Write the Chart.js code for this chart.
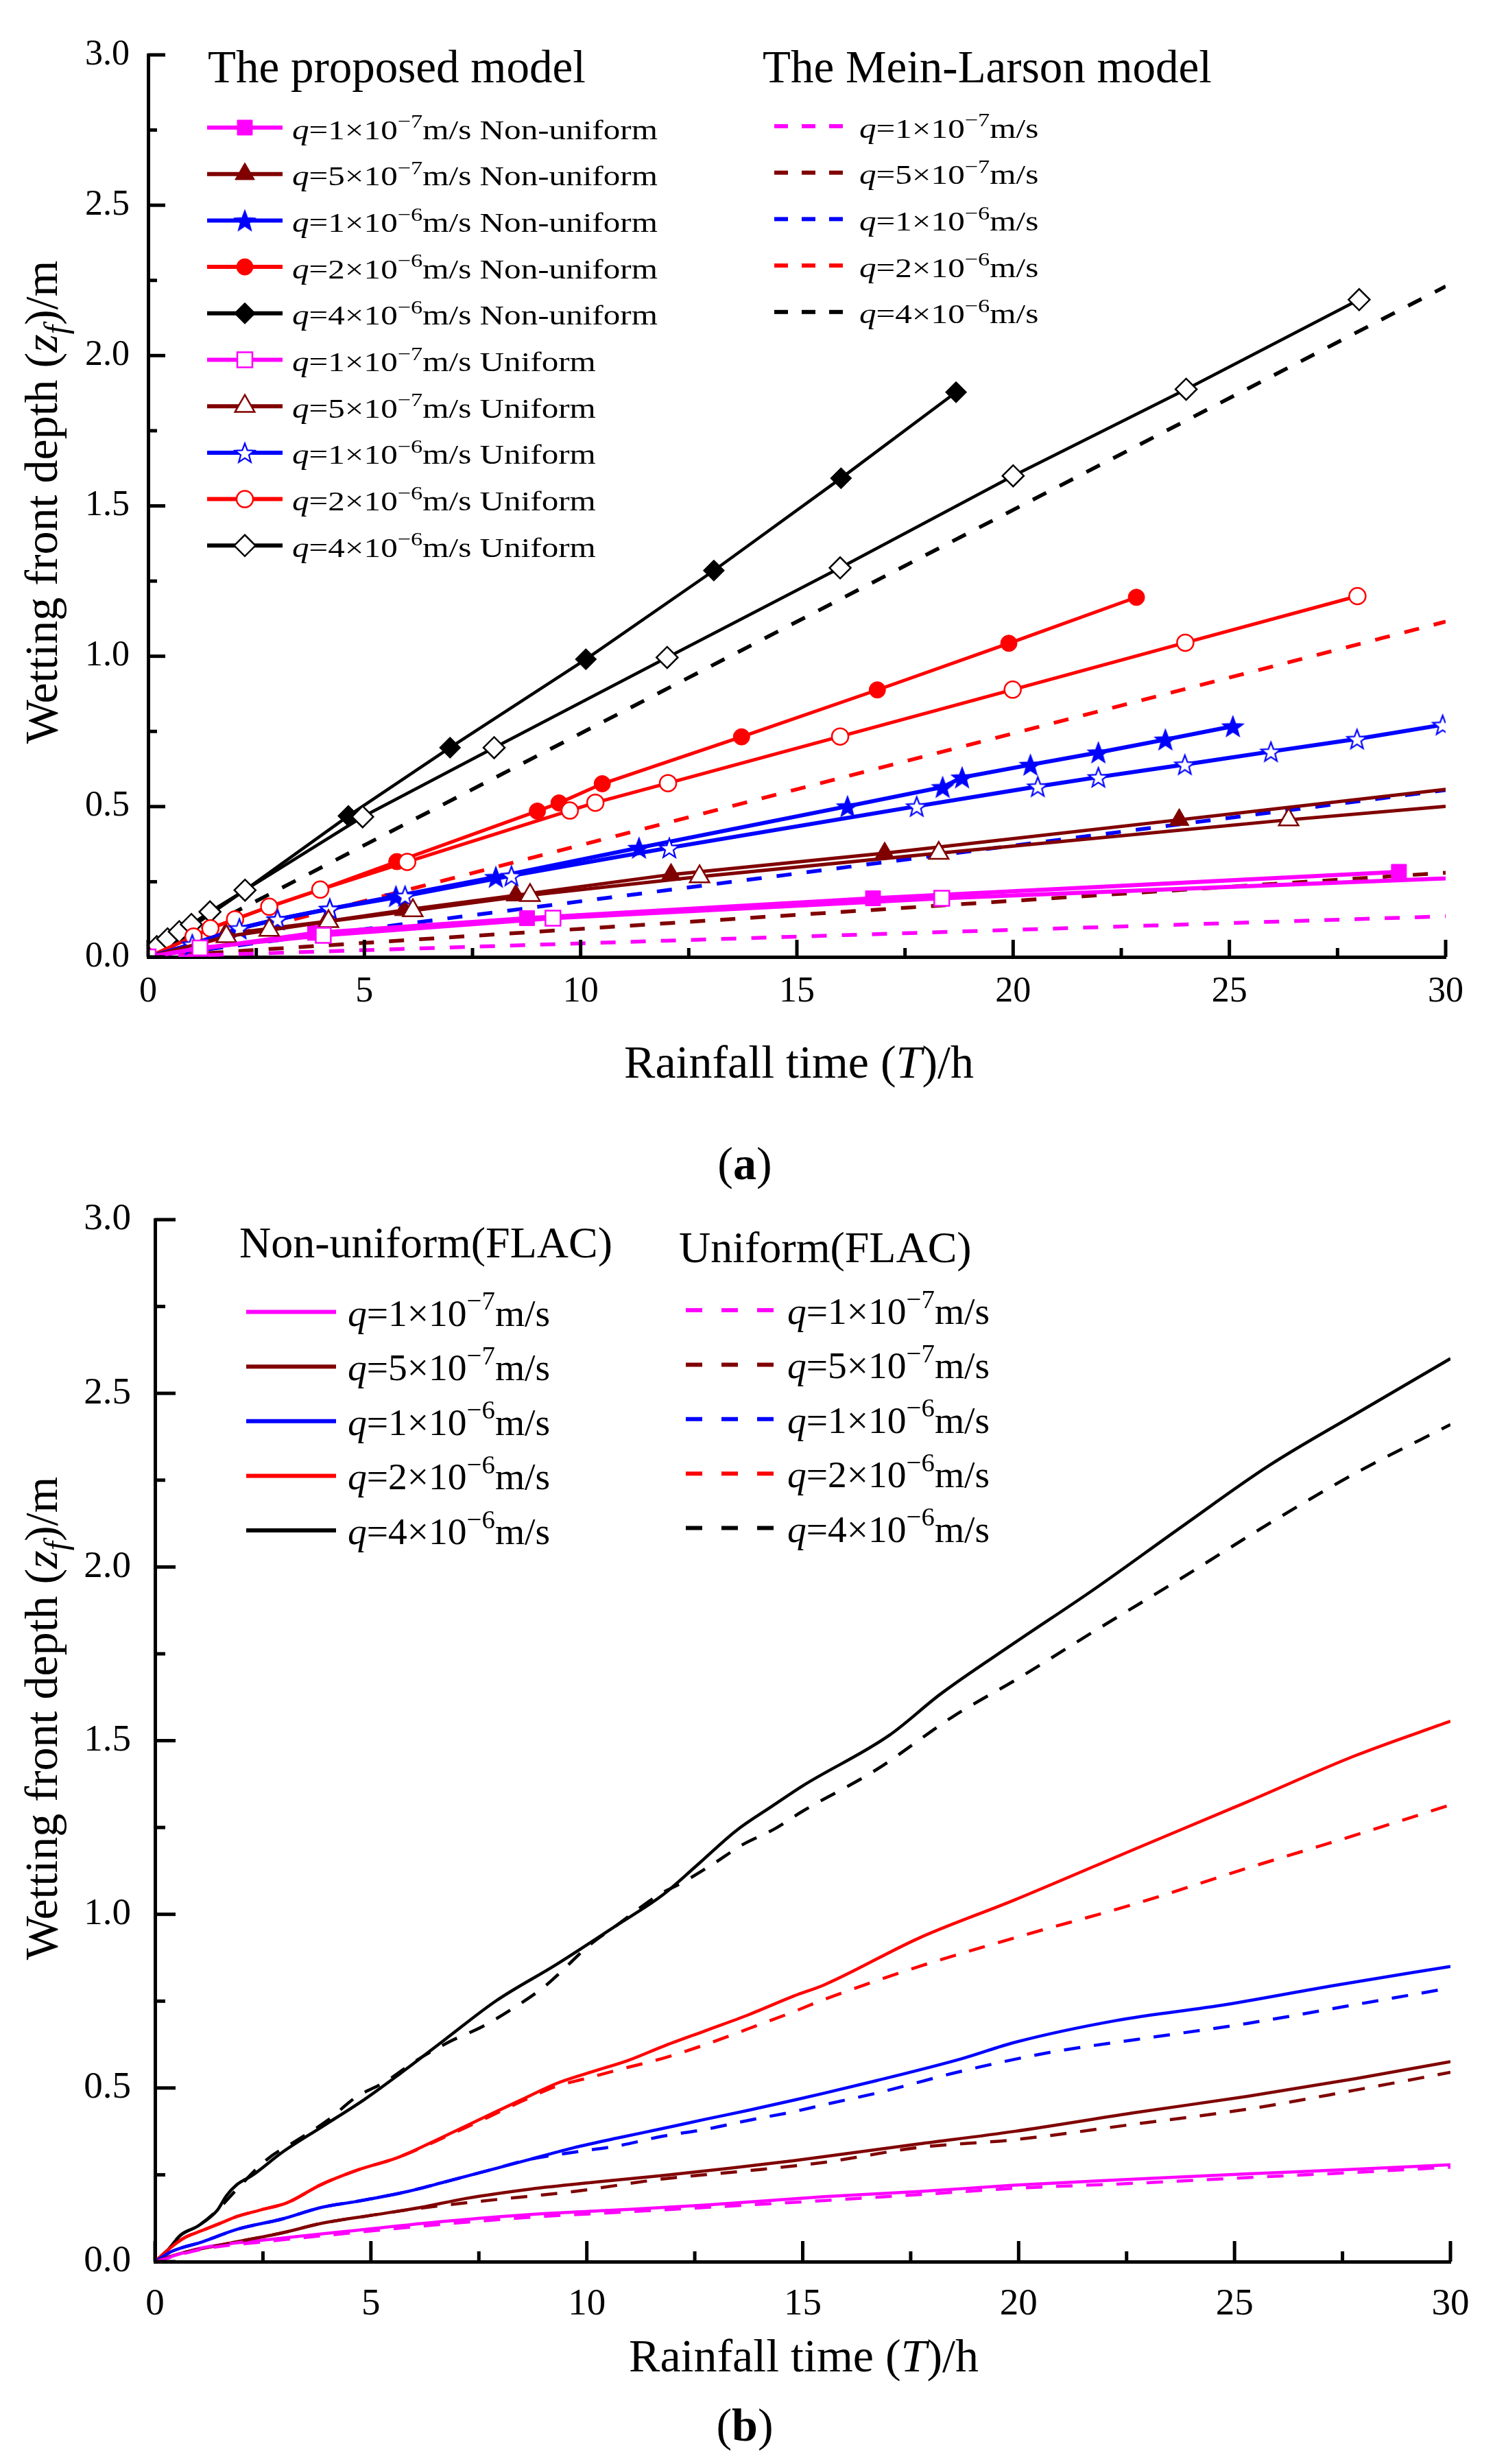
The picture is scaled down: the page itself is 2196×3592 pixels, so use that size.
<!DOCTYPE html>
<html>
<head>
<meta charset="utf-8">
<script src="https://cdn.jsdelivr.net/npm/chart.js@4.4.1/dist/chart.umd.min.js"></script>
<style>
  html, body { margin: 0; padding: 0; background: #fff; }
  #wrap { position: relative; width: 2196px; height: 3592px; }
  canvas { position: absolute; left: 0; top: 0; width: 2196px; height: 3592px; }
</style>
</head>
<body>
<div id="wrap">
  <canvas id="chartA" width="2196" height="3592"></canvas>
  <canvas id="chartB" width="2196" height="3592"></canvas>
</div>
<script>
const FONT = '"Liberation Serif", "Times New Roman", serif';
const MAG = '#ff00ff', DRED = '#800000', BLUE = '#0000ff', RED = '#ff0000', BLK = '#000000';

// legend text pieces (rainfall intensity q = coef x 10^exp m/s)
const qCoef = ['1', '5', '1', '2', '4'];
const qExp = ['\u22127', '\u22127', '\u22126', '\u22126', '\u22126'];
const xTicksLabel = 'Rainfall time (';
const yTicksLabel = 'Wetting front depth (';

// ---- (a) the proposed model, non-uniform (filled markers)
const aNu1x = [0, 1.2, 3.86, 8.76, 16.76, 28.92];
const aNu1y = [0, 0.027, 0.08, 0.129, 0.195, 0.283];
const aNu2x = [0, 1.79, 4.12, 5.92, 8.5, 12.09, 17.03, 23.84, 32];
const aNu2y = [0, 0.076, 0.118, 0.156, 0.205, 0.274, 0.345, 0.456, 0.59];
const aNu3x = [0, 1.02, 2.11, 2.99, 4.2, 5.73, 8.04, 11.35, 16.17, 18.37, 18.82, 20.4, 21.97, 23.52, 25.08];
const aNu3y = [0, 0.042, 0.095, 0.125, 0.16, 0.202, 0.266, 0.363, 0.501, 0.565, 0.597, 0.639, 0.68, 0.723, 0.767];
const aNu4x = [0, 1.05, 1.44, 2.01, 2.8, 3.98, 5.75, 9.0, 9.5, 10.5, 13.72, 16.86, 19.9, 22.85];
const aNu4y = [0, 0.068, 0.095, 0.125, 0.167, 0.224, 0.317, 0.485, 0.512, 0.576, 0.732, 0.888, 1.043, 1.196];
const aNu5x = [0, 2.24, 4.63, 6.98, 10.12, 13.08, 16.02, 18.68];
const aNu5y = [0, 0.222, 0.469, 0.696, 0.99, 1.285, 1.592, 1.878];

// ---- (a) the proposed model, uniform (hollow markers)
const aU1x = [0, 1.2, 4.05, 9.36, 18.35, 36];
const aU1y = [0, 0.03, 0.072, 0.129, 0.195, 0.295];
const aU2x = [0, 1.81, 2.8, 4.17, 6.12, 8.83, 12.75, 18.28, 26.37, 36];
const aU2y = [0, 0.068, 0.089, 0.118, 0.154, 0.205, 0.267, 0.345, 0.456, 0.575];
const aU3x = [0, 1.02, 2.11, 2.99, 4.2, 5.94, 8.4, 12.05, 17.77, 20.57, 21.97, 23.97, 25.96, 27.95, 29.93];
const aU3y = [0, 0.042, 0.095, 0.125, 0.16, 0.203, 0.27, 0.363, 0.501, 0.567, 0.598, 0.64, 0.683, 0.725, 0.772];
const aU4x = [0, 1.05, 1.44, 2.01, 2.8, 3.98, 5.99, 9.75, 10.34, 12.02, 16.0, 19.99, 23.98, 27.96];
const aU4y = [0, 0.068, 0.095, 0.125, 0.167, 0.224, 0.316, 0.487, 0.513, 0.578, 0.733, 0.889, 1.045, 1.2];
const aU5x = [0, 0.2, 0.45, 0.72, 1.0, 1.43, 2.24, 4.96, 8.0, 12.0, 16.0, 20.0, 24.0, 28.0];
const aU5y = [0, 0.034, 0.06, 0.084, 0.108, 0.15, 0.222, 0.466, 0.696, 0.996, 1.294, 1.6, 1.888, 2.186];

// ---- (a) Mein-Larson model (straight lines)
const mlX = [0, 30];
const ml1y = [0, 0.135];
const ml2y = [0, 0.28];
const ml3y = [0, 0.555];
const ml4y = [0, 1.115];
const ml5y = [0, 2.23];

// ---- (b) FLAC, non-uniform (solid)
const bNu1x = [0, 1.1, 2.6, 4.65, 6.7, 8.7, 10.75, 12.75, 15.5, 17.7, 19.9, 22.75, 25.3, 27.8, 30];
const bNu1y = [0, 0.04, 0.063, 0.09, 0.116, 0.136, 0.149, 0.163, 0.187, 0.202, 0.22, 0.238, 0.253, 0.266, 0.279];
const bNu2x = [0, 0.6, 1.6, 2.95, 3.85, 5.15, 6.15, 7.2, 8.7, 10.2, 11.75, 13.25, 14.8, 17.7, 19.9, 22.75, 25.3, 27.8, 30];
const bNu2y = [0, 0.024, 0.05, 0.083, 0.11, 0.136, 0.156, 0.182, 0.209, 0.229, 0.248, 0.268, 0.291, 0.339, 0.375, 0.43, 0.476, 0.527, 0.576];
const bNu3x = [0, 0.4, 1.1, 1.9, 2.95, 3.85, 4.65, 5.85, 6.7, 7.7, 8.7, 9.7, 10.75, 11.75, 12.75, 13.75, 14.8, 15.5, 16.7, 18.7, 19.9, 22.25, 24.8, 27.3, 30];
const bNu3y = [0, 0.03, 0.057, 0.093, 0.123, 0.156, 0.173, 0.202, 0.229, 0.262, 0.295, 0.328, 0.357, 0.383, 0.41, 0.436, 0.465, 0.485, 0.521, 0.585, 0.631, 0.694, 0.74, 0.795, 0.85];
const bNu4x = [0, 0.4, 0.7, 1.1, 1.5, 1.9, 2.45, 3.05, 3.85, 4.65, 5.65, 6.7, 7.7, 8.5, 9.3, 10.1, 10.95, 11.75, 12.75, 13.75, 14.8, 15.5, 17.7, 19.9, 22.75, 25.3, 27.8, 30];
const bNu4y = [0, 0.044, 0.07, 0.09, 0.11, 0.13, 0.149, 0.169, 0.222, 0.262, 0.301, 0.361, 0.42, 0.467, 0.513, 0.546, 0.579, 0.619, 0.665, 0.711, 0.765, 0.797, 0.932, 1.041, 1.191, 1.324, 1.457, 1.556];
const bNu5x = [0, 0.3, 0.6, 1.0, 1.45, 1.65, 1.9, 2.25, 2.95, 3.85, 4.85, 5.65, 6.7, 7.9, 9.3, 10.7, 11.75, 12.55, 13.45, 14.3, 15.0, 17.0, 18.2, 19.9, 21.75, 23.8, 25.8, 27.8, 30];
const bNu5y = [0, 0.034, 0.077, 0.103, 0.149, 0.189, 0.222, 0.248, 0.315, 0.387, 0.467, 0.539, 0.638, 0.751, 0.856, 0.969, 1.055, 1.141, 1.24, 1.312, 1.37, 1.515, 1.635, 1.781, 1.936, 2.118, 2.292, 2.44, 2.6];

// ---- (b) FLAC, uniform (dashed)
const bU1x = [0, 1.1, 2.6, 4.65, 6.7, 8.7, 10.75, 12.75, 15.5, 17.7, 19.9, 22.75, 25.3, 27.8, 30];
const bU1y = [0, 0.036, 0.058, 0.084, 0.108, 0.128, 0.142, 0.156, 0.176, 0.193, 0.211, 0.226, 0.242, 0.257, 0.272];
const bU2x = [0, 0.6, 1.6, 2.95, 3.85, 5.15, 6.15, 7.7, 9.7, 11.75, 13.75, 15.5, 17.7, 19.9, 22.75, 25.3, 27.8, 30];
const bU2y = [0, 0.024, 0.05, 0.083, 0.11, 0.136, 0.154, 0.176, 0.202, 0.238, 0.262, 0.286, 0.329, 0.351, 0.397, 0.439, 0.494, 0.545];
const bU3x = [0, 0.4, 1.1, 1.9, 2.95, 3.85, 4.65, 5.85, 6.7, 7.7, 8.7, 9.7, 10.75, 11.75, 12.75, 13.75, 14.8, 15.5, 16.7, 18.7, 20.75, 22.75, 25.3, 27.8, 30];
const bU3y = [0, 0.03, 0.057, 0.093, 0.123, 0.156, 0.173, 0.202, 0.229, 0.262, 0.295, 0.315, 0.334, 0.361, 0.381, 0.407, 0.432, 0.452, 0.485, 0.549, 0.603, 0.64, 0.686, 0.74, 0.788];
const bU4x = [0, 0.4, 0.7, 1.1, 1.5, 1.9, 2.45, 3.05, 3.85, 4.65, 5.65, 6.7, 7.7, 8.5, 9.3, 10.0, 10.75, 11.75, 12.75, 13.75, 14.8, 15.5, 17.7, 19.9, 22.75, 25.3, 27.8, 30];
const bU4y = [0, 0.044, 0.07, 0.09, 0.11, 0.13, 0.149, 0.169, 0.222, 0.262, 0.301, 0.358, 0.415, 0.462, 0.505, 0.528, 0.553, 0.585, 0.625, 0.671, 0.72, 0.755, 0.85, 0.932, 1.032, 1.133, 1.228, 1.315];
const bU5x = [0, 0.3, 0.6, 1.0, 1.45, 1.9, 2.6, 3.35, 4.0, 4.65, 5.35, 6.05, 6.8, 7.6, 8.3, 9.0, 9.45, 10.0, 10.7, 11.65, 12.25, 12.95, 13.6, 14.35, 15.0, 16.7, 18.5, 20.0, 21.75, 23.8, 25.8, 27.8, 30];
const bU5y = [0, 0.034, 0.077, 0.103, 0.149, 0.209, 0.295, 0.354, 0.407, 0.473, 0.519, 0.579, 0.632, 0.678, 0.73, 0.79, 0.84, 0.905, 0.969, 1.055, 1.094, 1.147, 1.2, 1.246, 1.297, 1.416, 1.571, 1.68, 1.815, 1.97, 2.125, 2.27, 2.41];

function pts(xs, ys) { return xs.map((x, i) => ({ x: x, y: ys[i] })); }

// 5-point star as a point style image
function starImg(fill, stroke, R) {
  const c = document.createElement('canvas');
  const s = Math.ceil(R * 2 + 6);
  c.width = s; c.height = s;
  const g = c.getContext('2d');
  g.translate(s / 2, s / 2 + R * 0.1);
  g.beginPath();
  for (let i = 0; i < 10; i++) {
    const r = i % 2 ? R * 0.42 : R;
    const a = -Math.PI / 2 + i * Math.PI / 5;
    g.lineTo(r * Math.cos(a), r * Math.sin(a));
  }
  g.closePath();
  g.fillStyle = fill; g.fill();
  g.lineWidth = 2.2; g.strokeStyle = stroke; g.stroke();
  return c;
}
const starFilled = starImg(BLUE, BLUE, 15);
const starHollow = starImg('#fff', BLUE, 15);

const MARK = {
  rect: 15.5, triangle: 16.5, star: 15, circle: 12, rectRot: 15.5
};

function markerSet(xs, ys, color, style, filled, tail, qi, width) {
  return {
    data: pts(xs, ys),
    borderColor: color,
    borderWidth: width,
    pointStyle: style === 'star' ? (filled ? starFilled : starHollow) : style,
    pointRadius: MARK[style],
    pointBackgroundColor: filled ? color : '#ffffff',
    pointBorderColor: color,
    pointBorderWidth: filled ? 1 : 2.5,
    tension: 0,
    order: filled ? 2 : 1,
    qi: qi, tail: tail
  };
}
function lineSet(xs, ys, color, dash, width, qi, order) {
  return {
    data: pts(xs, ys),
    borderColor: color,
    borderWidth: width,
    borderDash: dash,
    pointRadius: 0,
    tension: 0,
    cubicInterpolationMode: 'monotone',
    order: order,
    qi: qi, tail: ''
  };
}

// rich text with italic / superscript / subscript pieces
function rich(ctx, segs, x, y, size, sx, align) {
  ctx.textAlign = 'left';
  ctx.textBaseline = 'alphabetic';
  const parts = segs.map(s => {
    const fs = (s.sup || s.sub) ? size * 0.7 : size;
    const f = (s.it ? 'italic ' : '') + (s.b ? 'bold ' : '') + fs + 'px ' + FONT;
    ctx.font = f;
    return { s: s, f: f, w: ctx.measureText(s.t).width * sx };
  });
  const total = parts.reduce((a, p) => a + p.w, 0);
  let cx = align === 'center' ? x - total / 2 : x;
  parts.forEach(p => {
    ctx.font = p.f;
    ctx.save();
    ctx.translate(cx, y + (p.s.sup ? -size * 0.42 : p.s.sub ? size * 0.22 : 0));
    ctx.scale(sx, 1);
    ctx.fillText(p.s.t, 0, 0);
    ctx.restore();
    cx += p.w;
  });
}

function legendRow(ctx, d, x0, x1, yc, textX, base, size, sx, lw, dash) {
  ctx.save();
  ctx.strokeStyle = d.borderColor;
  ctx.lineWidth = lw;
  ctx.setLineDash(d.borderDash ? dash : []);
  ctx.beginPath(); ctx.moveTo(x0, yc); ctx.lineTo(x1, yc); ctx.stroke();
  ctx.setLineDash([]);
  if (d.pointRadius > 0) {
    ctx.fillStyle = d.pointBackgroundColor;
    ctx.strokeStyle = d.pointBorderColor;
    ctx.lineWidth = d.pointBorderWidth;
    Chart.helpers.drawPoint(ctx, { pointStyle: d.pointStyle, radius: d.pointRadius, rotation: 0, borderWidth: d.pointBorderWidth }, (x0 + x1) / 2, yc);
  }
  ctx.fillStyle = '#000';
  rich(ctx, [{ t: 'q', it: true }, { t: '=' + qCoef[d.qi] + '\u00d710' }, { t: qExp[d.qi], sup: true }, { t: 'm/s' + d.tail }],
    textX, yc + base, size, sx);
  ctx.restore();
}

function axisTitles(ctx, yCenter, xCenter, xBase, tag, tagBase) {
  ctx.save();
  ctx.fillStyle = '#000';
  ctx.translate(83, yCenter);
  ctx.rotate(-Math.PI / 2);
  rich(ctx, [{ t: yTicksLabel }, { t: 'z', it: true }, { t: 'f', it: true, sub: true }, { t: ')/m' }], 0, 0, 68, 1, 'center');
  ctx.restore();
  ctx.save();
  ctx.fillStyle = '#000';
  rich(ctx, [{ t: xTicksLabel }, { t: 'T', it: true }, { t: ')/h' }], xCenter, xBase, 68, 1, 'center');
  rich(ctx, [{ t: '(' }, { t: tag, b: true }, { t: ')' }], 1086, tagBase, 68, 1, 'center');
  ctx.restore();
}

const inwardTicks = {
  id: 'inwardTicks',
  afterDatasetsDraw(chart, args, o) {
    const ctx = chart.ctx, ca = chart.chartArea;
    const xs = chart.scales.x, ys = chart.scales.y;
    ctx.save();
    ctx.strokeStyle = '#000';
    ctx.lineWidth = o.width;
    const seg = (a, b, c, d) => { ctx.beginPath(); ctx.moveTo(a, b); ctx.lineTo(c, d); ctx.stroke(); };
    xs.ticks.forEach((t, i) => {
      const p = xs.getPixelForValue(t.value);
      seg(p, ca.bottom, p, ca.bottom - o.major);
      if (i < xs.ticks.length - 1) {
        const m = xs.getPixelForValue((t.value + xs.ticks[i + 1].value) / 2);
        seg(m, ca.bottom, m, ca.bottom - o.minor);
      }
    });
    ys.ticks.forEach((t, i) => {
      const p = ys.getPixelForValue(t.value);
      seg(ca.left, p, ca.left + o.major, p);
      if (i < ys.ticks.length - 1) {
        const m = ys.getPixelForValue((t.value + ys.ticks[i + 1].value) / 2);
        seg(ca.left, m, ca.left + o.minor, m);
      }
    });
    ctx.restore();
  }
};

function scalesFor(yWidth, yPad, xPad, fontSize) {
  return {
    x: {
      type: 'linear', min: 0, max: 30,
      afterFit(s) { s.height = 100; },
      grid: { display: false, drawTicks: false },
      border: { display: true, color: '#000', width: 5 },
      ticks: { stepSize: 5, padding: xPad, maxRotation: 0, color: '#000', font: { family: FONT, size: fontSize } }
    },
    y: {
      type: 'linear', min: 0, max: 3,
      afterFit(s) { s.width = yWidth; },
      grid: { display: false, drawTicks: false },
      border: { display: true, color: '#000', width: 5 },
      ticks: { stepSize: 0.5, padding: yPad, color: '#000', font: { family: FONT, size: fontSize }, callback: v => v.toFixed(1) }
    }
  };
}

// ---------------- chart (a)
const nuA = [
  markerSet(aNu1x, aNu1y, MAG, 'rect', true, ' Non-uniform', 0, 6),
  markerSet(aNu2x, aNu2y, DRED, 'triangle', true, ' Non-uniform', 1, 5),
  markerSet(aNu3x, aNu3y, BLUE, 'star', true, ' Non-uniform', 2, 6),
  markerSet(aNu4x, aNu4y, RED, 'circle', true, ' Non-uniform', 3, 5),
  markerSet(aNu5x, aNu5y, BLK, 'rectRot', true, ' Non-uniform', 4, 4.5)
];
const uA = [
  markerSet(aU1x, aU1y, MAG, 'rect', false, ' Uniform', 0, 6),
  markerSet(aU2x, aU2y, DRED, 'triangle', false, ' Uniform', 1, 5),
  markerSet(aU3x, aU3y, BLUE, 'star', false, ' Uniform', 2, 6),
  markerSet(aU4x, aU4y, RED, 'circle', false, ' Uniform', 3, 5),
  markerSet(aU5x, aU5y, BLK, 'rectRot', false, ' Uniform', 4, 4.5)
];
const mlA = [
  lineSet(mlX, ml1y, MAG, [22, 22], 5.5, 0, 3),
  lineSet(mlX, ml2y, DRED, [22, 22], 5.5, 1, 3),
  lineSet(mlX, ml3y, BLUE, [22, 22], 5.5, 2, 3),
  lineSet(mlX, ml4y, RED, [22, 22], 5.5, 3, 3),
  lineSet(mlX, ml5y, BLK, [22, 22], 5.5, 4, 3)
];

const decorA = {
  id: 'decorA',
  afterDraw(chart) {
    const ctx = chart.ctx;
    ctx.save();
    ctx.fillStyle = '#000';
    rich(ctx, [{ t: 'The proposed model' }], 303, 120, 67, 1);
    rich(ctx, [{ t: 'The Mein-Larson model' }], 1112, 120, 67, 1);
    nuA.concat(uA).forEach((d, i) => {
      legendRow(ctx, d, 302, 412, 186 + i * 67.7, 426, 16.5, 39, 1.26, 6, []);
    });
    mlA.forEach((d, i) => {
      legendRow(ctx, d, 1129, 1231, 184 + i * 67.7, 1253, 16.5, 39, 1.26, 6, [20, 20]);
    });
    ctx.restore();
    axisTitles(ctx, 732, 1165, 1571, 'a', 1719);
  }
};

new Chart(document.getElementById('chartA'), {
  type: 'line',
  data: { datasets: nuA.concat(uA, mlA) },
  options: {
    responsive: false, animation: false, devicePixelRatio: 1, events: [],
    layout: { padding: { left: 0, right: 88, top: 80, bottom: 3592 - 1395 - 100 } },
    plugins: { legend: { display: false }, tooltip: { enabled: false }, inwardTicks: { major: 25, minor: 13, width: 5 } },
    scales: scalesFor(216, 27, 20, 52)
  },
  plugins: [inwardTicks, decorA]
});

// ---------------- chart (b)
const nuB = [
  lineSet(bNu1x, bNu1y, MAG, undefined, 4.5, 0, 2),
  lineSet(bNu2x, bNu2y, DRED, undefined, 4.5, 1, 2),
  lineSet(bNu3x, bNu3y, BLUE, undefined, 4.5, 2, 2),
  lineSet(bNu4x, bNu4y, RED, undefined, 4.5, 3, 2),
  lineSet(bNu5x, bNu5y, BLK, undefined, 4.5, 4, 2)
];
const uB = [
  lineSet(bU1x, bU1y, MAG, [24, 20], 4.5, 0, 1),
  lineSet(bU2x, bU2y, DRED, [24, 20], 4.5, 1, 1),
  lineSet(bU3x, bU3y, BLUE, [24, 20], 4.5, 2, 1),
  lineSet(bU4x, bU4y, RED, [24, 20], 4.5, 3, 1),
  lineSet(bU5x, bU5y, BLK, [24, 20], 4.5, 4, 1)
];

const decorB = {
  id: 'decorB',
  afterDraw(chart) {
    const ctx = chart.ctx;
    ctx.save();
    ctx.fillStyle = '#000';
    rich(ctx, [{ t: 'Non-uniform(FLAC)' }], 349, 1833, 64, 1);
    rich(ctx, [{ t: 'Uniform(FLAC)' }], 990, 1840, 64, 1);
    nuB.forEach((d, i) => {
      legendRow(ctx, d, 359, 490, 1912.6 + i * 79.6, 507, 20, 55.5, 1, 6, []);
    });
    uB.forEach((d, i) => {
      legendRow(ctx, d, 1000, 1129, 1910 + i * 79.4, 1148, 20, 55.5, 1, 6, [24, 28]);
    });
    ctx.restore();
    axisTitles(ctx, 2505, 1172, 3457, 'b', 3558);
  }
};

new Chart(document.getElementById('chartB'), {
  type: 'line',
  data: { datasets: nuB.concat(uB) },
  options: {
    responsive: false, animation: false, devicePixelRatio: 1, events: [],
    layout: { padding: { left: 0, right: 81, top: 1778, bottom: 3592 - 3297 - 100 } },
    plugins: { legend: { display: false }, tooltip: { enabled: false }, inwardTicks: { major: 30, minor: 15, width: 5 } },
    scales: scalesFor(226, 35, 30, 55)
  },
  plugins: [inwardTicks, decorB]
});
</script>
</body>
</html>
